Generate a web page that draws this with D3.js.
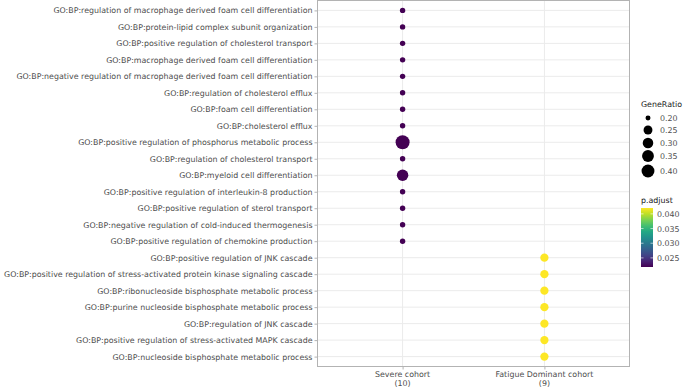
<!DOCTYPE html>
<html>
<head>
<meta charset="utf-8">
<script src="https://cdn.jsdelivr.net/npm/d3@7"></script>
<style>
  body { margin: 0; background: #fff; }
  text { font-family: "DejaVu Sans", sans-serif; }
</style>
</head>
<body>
<div id="chart"></div>
<script>
// terms from top to bottom
const terms = [
  "GO:BP:regulation of macrophage derived foam cell differentiation",
  "GO:BP:protein-lipid complex subunit organization",
  "GO:BP:positive regulation of cholesterol transport",
  "GO:BP:macrophage derived foam cell differentiation",
  "GO:BP:negative regulation of macrophage derived foam cell differentiation",
  "GO:BP:regulation of cholesterol efflux",
  "GO:BP:foam cell differentiation",
  "GO:BP:cholesterol efflux",
  "GO:BP:positive regulation of phosphorus metabolic process",
  "GO:BP:regulation of cholesterol transport",
  "GO:BP:myeloid cell differentiation",
  "GO:BP:positive regulation of interleukin-8 production",
  "GO:BP:positive regulation of sterol transport",
  "GO:BP:negative regulation of cold-induced thermogenesis",
  "GO:BP:positive regulation of chemokine production",
  "GO:BP:positive regulation of JNK cascade",
  "GO:BP:positive regulation of stress-activated protein kinase signaling cascade",
  "GO:BP:ribonucleoside bisphosphate metabolic process",
  "GO:BP:purine nucleoside bisphosphate metabolic process",
  "GO:BP:regulation of JNK cascade",
  "GO:BP:positive regulation of stress-activated MAPK cascade",
  "GO:BP:nucleoside bisphosphate metabolic process"
];
const cohorts = ["Severe cohort", "Fatigue Dominant cohort"];
const cohortCounts = ["(10)", "(9)"];
const termCohort = [0,0,0,0,0,0,0,0,0,0,0,0,0,0,0,1,1,1,1,1,1,1];
const geneRatio = [0.2,0.2,0.2,0.2,0.2,0.2,0.2,0.2,0.4,0.2,0.3,0.2,0.2,0.2,0.2,
                   0.222,0.222,0.222,0.222,0.222,0.222,0.222];
const pAdjust = [0.0219,0.0219,0.0219,0.0219,0.0219,0.0219,0.0219,0.0219,0.0219,0.0219,
                 0.0219,0.0219,0.0219,0.0219,0.0219,
                 0.0420,0.0420,0.0420,0.0420,0.0420,0.0420,0.0420];
const sizeBreaks = [0.20, 0.25, 0.30, 0.35, 0.40];
const colorBreaks = [0.040, 0.035, 0.030, 0.025];

const W = 685, H = 388;
const panel = { left: 317.5, right: 629.5, top: 0.5, bottom: 366.5 };
const fs = "7.9px";

const svg = d3.select("#chart").append("svg")
  .attr("width", W).attr("height", H);

const x = d3.scalePoint().domain(cohorts)
  .range([panel.left, panel.right]).padding(0.6);
const y = d3.scalePoint().domain(terms)
  .range([panel.top, panel.bottom]).padding(0.6);

// size scale like ggplot scale_size (area)
const rMin = 2.7, rMax = 7;
const radius = v => {
  const t = Math.max(0, (v - 0.2) / 0.2);
  return rMin + (rMax - rMin) * Math.sqrt(t);
};
const colorDomain = [0.0219, 0.0420];
const color = d3.scaleSequential(d3.interpolateViridis).domain(colorDomain);

// grid
svg.append("g").selectAll("line").data(terms).join("line")
  .attr("x1", panel.left).attr("x2", panel.right)
  .attr("y1", d => y(d)).attr("y2", d => y(d))
  .attr("stroke", "#ebebeb").attr("stroke-width", 1);
svg.append("g").selectAll("line").data(cohorts).join("line")
  .attr("x1", d => x(d)).attr("x2", d => x(d))
  .attr("y1", panel.top).attr("y2", panel.bottom)
  .attr("stroke", "#ebebeb").attr("stroke-width", 1);

// points
const pts = terms.map((t, i) => ({ term: t, cohort: cohorts[termCohort[i]], ratio: geneRatio[i], p: pAdjust[i] }));
svg.append("g").selectAll("circle").data(pts).join("circle")
  .attr("cx", d => x(d.cohort)).attr("cy", d => y(d.term))
  .attr("r", d => radius(d.ratio))
  .attr("fill", d => color(d.p));

// panel border
svg.append("rect")
  .attr("x", panel.left).attr("y", panel.top)
  .attr("width", panel.right - panel.left).attr("height", panel.bottom - panel.top)
  .attr("fill", "none").attr("stroke", "#b3b3b3").attr("stroke-width", 1);

// y axis
const yAxis = svg.append("g").attr("transform", `translate(${panel.left},0)`)
  .call(d3.axisLeft(y).tickSize(3).tickPadding(2));
yAxis.select(".domain").remove();
yAxis.selectAll("line").attr("stroke", "#b3b3b3");
yAxis.selectAll("text").attr("fill", "#4d4d4d").style("font-size", fs)
  .style("font-family", "'DejaVu Sans', sans-serif");

// x axis
const xAxis = svg.append("g").attr("transform", `translate(0,${panel.bottom})`)
  .call(d3.axisBottom(x).tickSize(3).tickFormat(""));
xAxis.select(".domain").remove();
xAxis.selectAll("line").attr("stroke", "#b3b3b3");
cohorts.forEach((c, i) => {
  const t = svg.append("text").attr("x", x(c)).attr("y", 377)
    .attr("text-anchor", "middle").attr("fill", "#4d4d4d")
    .style("font-size", fs);
  t.append("tspan").attr("x", x(c)).text(c);
  t.append("tspan").attr("x", x(c)).attr("dy", 9).text(cohortCounts[i]);
});

// size legend
const sl = svg.append("g");
sl.append("text").attr("x", 641).attr("y", 107).text("GeneRatio")
  .style("font-size", fs).attr("fill", "#1a1a1a");
const sizeY = [118, 130, 143, 156, 171];
sizeBreaks.forEach((b, i) => {
  sl.append("circle").attr("cx", 648).attr("cy", sizeY[i])
    .attr("r", radius(b) * 0.92).attr("fill", "#000");
  sl.append("text").attr("x", 660).attr("y", sizeY[i] + 3).text(b.toFixed(2))
    .style("font-size", fs).attr("fill", "#4d4d4d");
});

// colour legend
const cl = svg.append("g");
cl.append("text").attr("x", 641).attr("y", 203).text("p.adjust")
  .style("font-size", fs).attr("fill", "#1a1a1a");
const barTop = 208, barBottom = 267, barX = 641, barW = 12;
const cy = d3.scaleLinear().domain(colorDomain).range([barBottom, barTop]);
const defs = svg.append("defs");
const grad = defs.append("linearGradient").attr("id", "vir")
  .attr("x1", 0).attr("y1", 1).attr("x2", 0).attr("y2", 0);
d3.range(0, 1.001, 0.1).forEach(t => {
  grad.append("stop").attr("offset", t).attr("stop-color", d3.interpolateViridis(t));
});
cl.append("rect").attr("x", barX).attr("y", barTop)
  .attr("width", barW).attr("height", barBottom - barTop).attr("fill", "url(#vir)");
colorBreaks.forEach(b => {
  cl.append("line").attr("x1", barX).attr("x2", barX + 2.5)
    .attr("y1", cy(b)).attr("y2", cy(b)).attr("stroke", "#fff").attr("stroke-width", 0.6);
  cl.append("line").attr("x1", barX + barW - 2.5).attr("x2", barX + barW)
    .attr("y1", cy(b)).attr("y2", cy(b)).attr("stroke", "#fff").attr("stroke-width", 0.6);
  cl.append("text").attr("x", 657).attr("y", cy(b) + 3).text(b.toFixed(3))
    .style("font-size", fs).attr("fill", "#4d4d4d");
});
</script>
</body>
</html>
